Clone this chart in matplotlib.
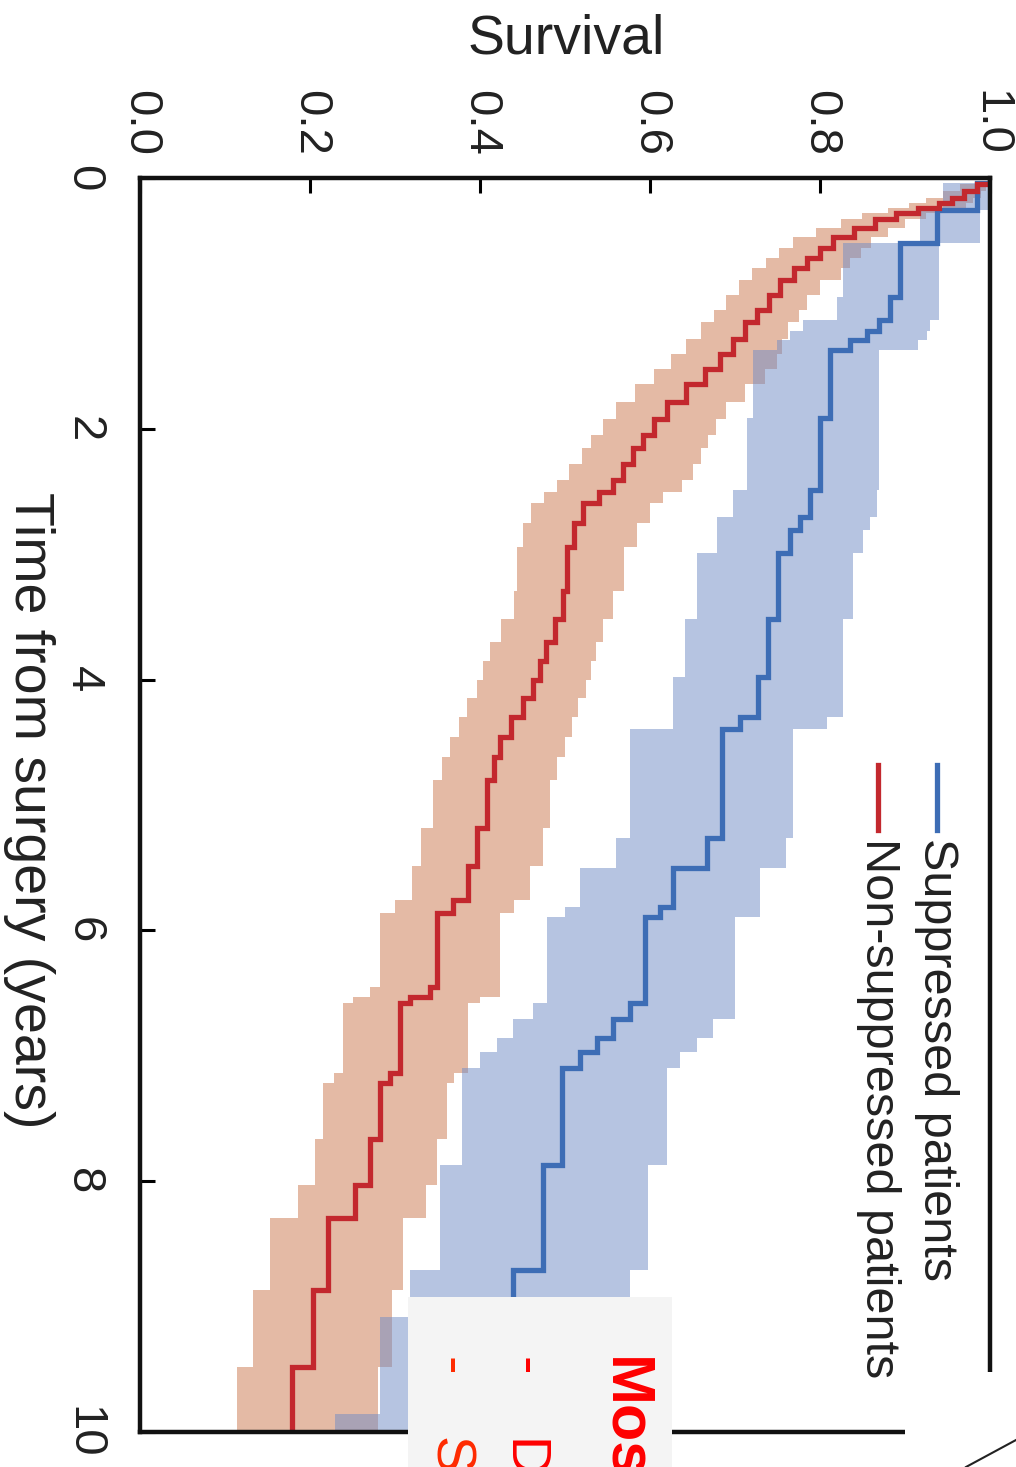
import matplotlib
matplotlib.use("Agg")
import matplotlib.pyplot as plt
import numpy as np
from matplotlib.patches import Rectangle
from matplotlib.lines import Line2D

plt.rcParams['font.family'] = ['Liberation Sans', 'DejaVu Sans']

# --- данные ---
# Non-suppressed patients (красная кривая)
red_t = [0.00, 0.05, 0.10, 0.16, 0.20, 0.24, 0.28, 0.33, 0.40, 0.47, 0.56, 0.64, 0.72, 0.81,
         0.93, 1.05, 1.15, 1.28, 1.40, 1.52, 1.64, 1.79, 1.92, 2.05, 2.15, 2.28, 2.41, 2.50,
         2.59, 2.75, 2.94, 3.29, 3.52, 3.70, 3.85, 4.00, 4.15, 4.30, 4.46, 4.62, 4.80, 5.18,
         5.49, 5.76, 5.86, 6.45, 6.53, 6.58, 7.14, 7.22, 7.66, 8.03, 8.29, 8.87, 9.48, 10.0]
red_s = [1.000, 0.985, 0.970, 0.955, 0.940, 0.915, 0.890, 0.865, 0.840, 0.815, 0.800, 0.785, 0.770, 0.753,
         0.740, 0.726, 0.712, 0.698, 0.682, 0.665, 0.642, 0.620, 0.605, 0.592, 0.580, 0.568, 0.556, 0.540,
         0.521, 0.510, 0.502, 0.498, 0.488, 0.478, 0.470, 0.462, 0.450, 0.437, 0.424, 0.416, 0.408, 0.396,
         0.386, 0.368, 0.349, 0.341, 0.318, 0.306, 0.294, 0.282, 0.271, 0.253, 0.221, 0.204, 0.179, 0.179]
red_lo = [1.000, 0.965, 0.945, 0.925, 0.905, 0.880, 0.850, 0.825, 0.795, 0.768, 0.752, 0.737, 0.720, 0.705,
          0.690, 0.675, 0.660, 0.642, 0.625, 0.605, 0.582, 0.560, 0.545, 0.530, 0.520, 0.505, 0.490, 0.475,
          0.460, 0.450, 0.444, 0.440, 0.425, 0.412, 0.404, 0.396, 0.385, 0.375, 0.365, 0.355, 0.345, 0.330,
          0.320, 0.300, 0.282, 0.270, 0.250, 0.239, 0.228, 0.215, 0.206, 0.186, 0.153, 0.133, 0.114, 0.114]
red_hi = [1.000, 0.995, 0.990, 0.980, 0.972, 0.950, 0.925, 0.900, 0.880, 0.860, 0.848, 0.835, 0.825, 0.800,
          0.785, 0.775, 0.762, 0.755, 0.750, 0.735, 0.712, 0.690, 0.678, 0.668, 0.660, 0.650, 0.638, 0.615,
          0.600, 0.585, 0.570, 0.556, 0.545, 0.537, 0.530, 0.525, 0.515, 0.508, 0.500, 0.490, 0.482, 0.474,
          0.459, 0.440, 0.424, 0.424, 0.400, 0.386, 0.370, 0.361, 0.349, 0.336, 0.310, 0.296, 0.280, 0.280]

# Suppressed patients (синяя кривая)
blue_t = [0.00, 0.04, 0.255, 0.52, 0.95, 1.13, 1.22, 1.29, 1.37, 1.91, 2.49, 2.70, 2.81, 2.99,
          3.52, 3.98, 4.30, 4.39, 5.26, 5.50, 5.81, 5.89, 6.58, 6.71, 6.86, 6.97, 7.10, 7.87,
          8.71, 9.08, 9.86, 10.0]
blue_s = [1.000, 0.985, 0.938, 0.894, 0.882, 0.870, 0.855, 0.835, 0.812, 0.800, 0.788, 0.776, 0.765, 0.751,
          0.739, 0.727, 0.706, 0.685, 0.667, 0.627, 0.612, 0.594, 0.576, 0.556, 0.538, 0.518, 0.496, 0.474,
          0.439, 0.439, 0.439, 0.439]
blue_lo = [1.000, 0.945, 0.918, 0.827, 0.820, 0.780, 0.765, 0.750, 0.721, 0.714, 0.698, 0.679, 0.679, 0.655,
           0.641, 0.627, 0.627, 0.576, 0.560, 0.518, 0.500, 0.479, 0.462, 0.439, 0.420, 0.400, 0.379, 0.353,
           0.318, 0.282, 0.229, 0.229]
blue_hi = [1.000, 0.998, 0.988, 0.940, 0.940, 0.930, 0.926, 0.915, 0.870, 0.870, 0.867, 0.859, 0.851, 0.839,
           0.827, 0.827, 0.808, 0.768, 0.760, 0.729, 0.729, 0.700, 0.700, 0.674, 0.655, 0.635, 0.620, 0.598,
           0.576, 0.576, 0.576, 0.576]

x_ticks = [0.0, 0.2, 0.4, 0.6, 0.8, 1.0]
x_ticklabels = ['0.0', '0.2', '0.4', '0.6', '0.8', '1.0']
y_ticks = [0, 2, 4, 6, 8, 10]
y_ticklabels = ['0', '2', '4', '6', '8', '10']
legend_labels = ['Suppressed patients', 'Non-suppressed patients']


def km_path(t, s):
    # ступенька вдоль оси времени (ось y)
    t = np.asarray(t)
    s = np.asarray(s)
    yy = np.repeat(t, 2)[1:]
    xx = np.repeat(s, 2)[:-1]
    return xx, yy


fig = plt.figure(figsize=(10.16, 14.67), dpi=100)
W, H = 1016, 1467
ax = fig.add_axes([140 / W, 1 - 1432 / H, 850 / W, 1254 / H])

ax.fill_betweenx(red_t, red_lo, red_hi, step='post', color='#CB774D', alpha=0.5, lw=0)
ax.fill_betweenx(blue_t, blue_lo, blue_hi, step='post', color='#6F8BC5', alpha=0.5, lw=0)

rx, ry = km_path(red_t, red_s)
bx, by = km_path(blue_t, blue_s)
ax.plot(bx, by, color='#3D6DB5', lw=3.8, solid_joinstyle='miter')
ax.plot(rx, ry, color='#C3282E', lw=3.8, solid_joinstyle='miter')

ax.set_xlim(0, 1.0)
ax.set_ylim(10, 0)
ax.set_xticks(x_ticks)
ax.set_xticklabels(x_ticklabels)
ax.set_yticks(y_ticks)
ax.set_yticklabels(y_ticklabels)

ax.tick_params(axis='x', top=True, bottom=False, labeltop=True, labelbottom=False,
               direction='in', length=11, width=2.2, pad=16, labelsize=34,
               labelcolor='#222222', labelrotation=-90)
ax.tick_params(axis='y', left=True, right=False, direction='in', length=11, width=2.2,
               pad=25, labelsize=34, labelcolor='#222222', labelrotation=-90)
for lab in ax.get_xticklabels():
    lab.set_ha('center')
    lab.set_va('bottom')
for lab in ax.get_yticklabels():
    lab.set_ha('right')
    lab.set_va('center')

for sp in ax.spines.values():
    sp.set_linewidth(3.2)
    sp.set_color('#111111')

# подписи осей
fig.text(566 / W, 1 - 40 / H, 'Survival', fontsize=40, color='#222222',
         ha='center', va='center')
fig.text(29 / W, 1 - 810 / H, 'Time from surgery (years)', fontsize=40, color='#222222',
         rotation=-90, ha='center', va='center')

# легенда (повёрнутая)
for xc, col, lab in [(937, '#3D6DB5', legend_labels[0]), (878, '#C3282E', legend_labels[1])]:
    fig.add_artist(Line2D([xc / W, xc / W], [1 - 765 / H, 1 - 830 / H],
                          transform=fig.transFigure, color=col, lw=3.8))
    fig.text(xc / W, 1 - 838 / H, lab, fontsize=35, color='#222222',
             rotation=-90, ha='center', va='top')

# серая плашка с красным текстом внизу
fig.add_artist(Rectangle((408 / W, 0), 264 / W, 1 - 1297 / H, transform=fig.transFigure,
                         facecolor='#F4F4F4', edgecolor='none', zorder=5))
fig.text(624 / W, 1 - 1357 / H, 'Most', fontsize=44, fontweight='bold', color='#FF0000',
         rotation=-90, ha='center', va='top', zorder=6)
fig.text(526 / W, 1 - 1355 / H, '-    D', fontsize=40, color='#FF0000',
         rotation=-90, ha='center', va='top', zorder=6)
fig.text(450 / W, 1 - 1355 / H, '-    S', fontsize=40, color='#FF2A00',
         rotation=-90, ha='center', va='top', zorder=6)

# белый угол справа внизу
fig.add_artist(Rectangle((905 / W, 0), 111 / W, 1 - 1372 / H, transform=fig.transFigure,
                         facecolor='white', edgecolor='none', zorder=5))
fig.add_artist(Line2D([966 / W, 1.0], [0, 1 - 1440 / H], transform=fig.transFigure,
                      color='#222222', lw=1.5, zorder=6))

fig.savefig('out.png', dpi=100)
